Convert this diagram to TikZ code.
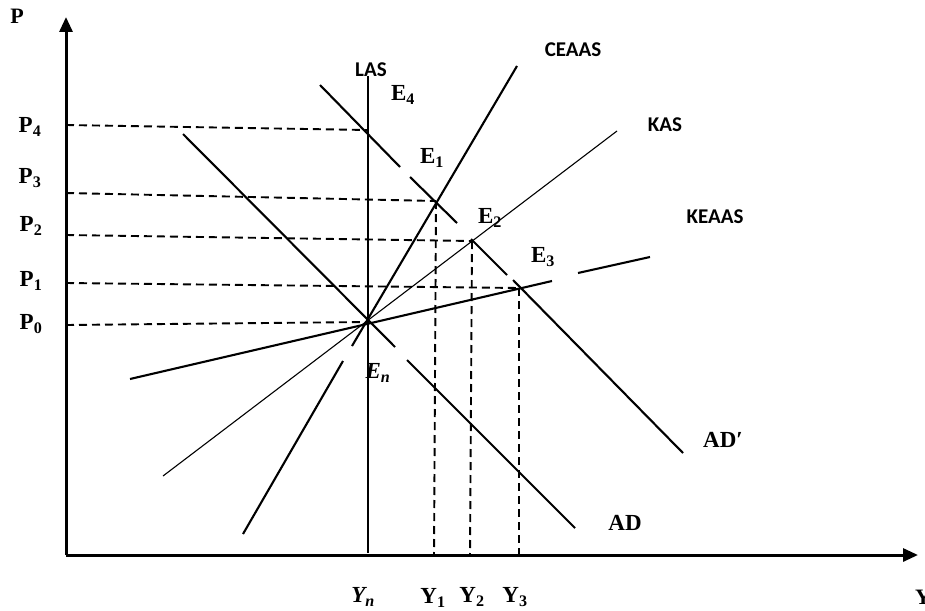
\documentclass[tikz,border=0pt]{standalone}
\usepackage{fontspec}
\newfontfamily\lblsans{Carlito}[BoldFont={Carlito Bold}]
\newfontfamily\lblserif{Liberation Serif}
\usetikzlibrary{arrows.meta}
\newcommand{\lblsub}[2]{#1\textsubscript{#2}}
\newcommand{\lblitsub}[2]{\itshape #1\textsubscript{#2}}
\begin{document}
\begin{tikzpicture}[x=1pt,y=-1pt,
  axis/.style={line width=3pt,-{Triangle[length=15pt,width=13pt]}},
  thick curve/.style={line width=2.1pt},
  thin curve/.style={line width=1.1pt},
  guide/.style={line width=1.9pt,dash pattern=on 8pt off 5pt},
  sanslbl/.style={font=\lblsans\bfseries\fontsize{21}{25}\selectfont,inner sep=0pt},
  mathlbl/.style={font=\lblserif\bfseries\fontsize{23}{27}\selectfont,inner sep=0pt},
  seriflbl/.style={font=\lblserif\bfseries\fontsize{22}{26}\selectfont,inner sep=0pt}]
\useasboundingbox (0,0) rectangle (925,610);
% key points
\coordinate (O) at (66,555);
\coordinate (Ptip) at (66,17);
\coordinate (Ytip) at (918,555);
\coordinate (En) at (368,322);
\coordinate (E4) at (367,130);
\coordinate (E1) at (436,201);
\coordinate (E2) at (472,241);
\coordinate (E3) at (519,288);
\coordinate (P4a) at (66,125);
\coordinate (P3a) at (66,193);
\coordinate (P2a) at (66,235);
\coordinate (P1a) at (66,283);
\coordinate (P0a) at (66,325);
\coordinate (Y1a) at (434,555);
\coordinate (Y2a) at (470,555);
\coordinate (Y3a) at (519,555);
\coordinate (LAStop) at (368,76);
\coordinate (LASbot) at (368,553);
% dashed guides
\draw[guide] (P4a) -- (E4);
\draw[guide] (P3a) -- (E1);
\draw[guide] (P2a) -- (E2);
\draw[guide] (P1a) -- (E3);
\draw[guide] (P0a) -- (En);
\draw[guide] (E1) -- (Y1a);
\draw[guide] (E2) -- (Y2a);
\draw[guide] (E3) -- (Y3a);
% LAS
\draw[thin curve] (LAStop) -- (LASbot);
% AD'
\coordinate (a1) at (320,85);  \coordinate (a2) at (400,167);
\coordinate (a3) at (410,177); \coordinate (a4) at (457,223);
\coordinate (a5) at (471,239); \coordinate (a6) at (507,275);
\coordinate (a7) at (513,280); \coordinate (a8) at (683,453);
\draw[thick curve] (a1) -- (a2);
\draw[thick curve] (a3) -- (a4);
\draw[thick curve] (a5) -- (a6);
\draw[thick curve] (a7) -- (a8);
% AD
\coordinate (d1) at (183,134); \coordinate (d2) at (395,347);
\coordinate (d3) at (407,360); \coordinate (d4) at (575,528);
\draw[thick curve] (d1) -- (d2);
\draw[thick curve] (d3) -- (d4);
% CEAAS
\coordinate (c1) at (517,66);  \coordinate (c2) at (352,346);
\coordinate (c3) at (343,361); \coordinate (c4) at (243,534);
\draw[thick curve] (c1) -- (c2);
\draw[thick curve] (c3) -- (c4);
% KAS
\coordinate (k1) at (617,131); \coordinate (k2) at (163,476);
\draw[thin curve] (k1) -- (k2);
% KEAAS
\coordinate (ke1) at (130,379); \coordinate (ke2) at (552,281);
\coordinate (ke3) at (578,273); \coordinate (ke4) at (650,257);
\draw[thick curve] (ke1) -- (ke2);
\draw[thick curve] (ke3) -- (ke4);
% axes
\draw[axis] (O) -- (Ptip);
\draw[axis] (O) -- (Ytip);
% labels
\node[seriflbl] (lP) at (17,16) {P};
\node[seriflbl,anchor=west] (lY) at (915,597) {Y};
\node[mathlbl] (lP4) at (30,127) {\lblsub{P}{4}};
\node[mathlbl] (lP3) at (30,178) {\lblsub{P}{3}};
\node[mathlbl] (lP2) at (31,226) {\lblsub{P}{2}};
\node[mathlbl] (lP1) at (31,281) {\lblsub{P}{1}};
\node[mathlbl] (lP0) at (31,324) {\lblsub{P}{0}};
\node[mathlbl] (lYn) at (363,597) {\lblitsub{Y}{n}};
\node[mathlbl] (lY1) at (433,598) {\lblsub{Y}{1}};
\node[mathlbl] (lY2) at (472,597) {\lblsub{Y}{2}};
\node[mathlbl] (lY3) at (515,597) {\lblsub{Y}{3}};
\node[mathlbl] (lE4) at (403,95) {\lblsub{E}{4}};
\node[mathlbl] (lE1) at (432,158) {\lblsub{E}{1}};
\node[mathlbl] (lE2) at (490,218) {\lblsub{E}{2}};
\node[mathlbl] (lE3) at (543,257) {\lblsub{E}{3}};
\node[mathlbl] (lEn) at (378,373) {\lblitsub{E}{n}};
\node[sanslbl] (lLAS) at (371,70) {LAS};
\node[sanslbl] (lCE) at (573,50) {CEAAS};
\node[sanslbl] (lKAS) at (665,125) {KAS};
\node[sanslbl] (lKE) at (715,217) {KEAAS};
\node[mathlbl] (lADp) at (723,440) {AD′};
\node[mathlbl] (lAD) at (625,523) {AD};
\end{tikzpicture}
\end{document}
